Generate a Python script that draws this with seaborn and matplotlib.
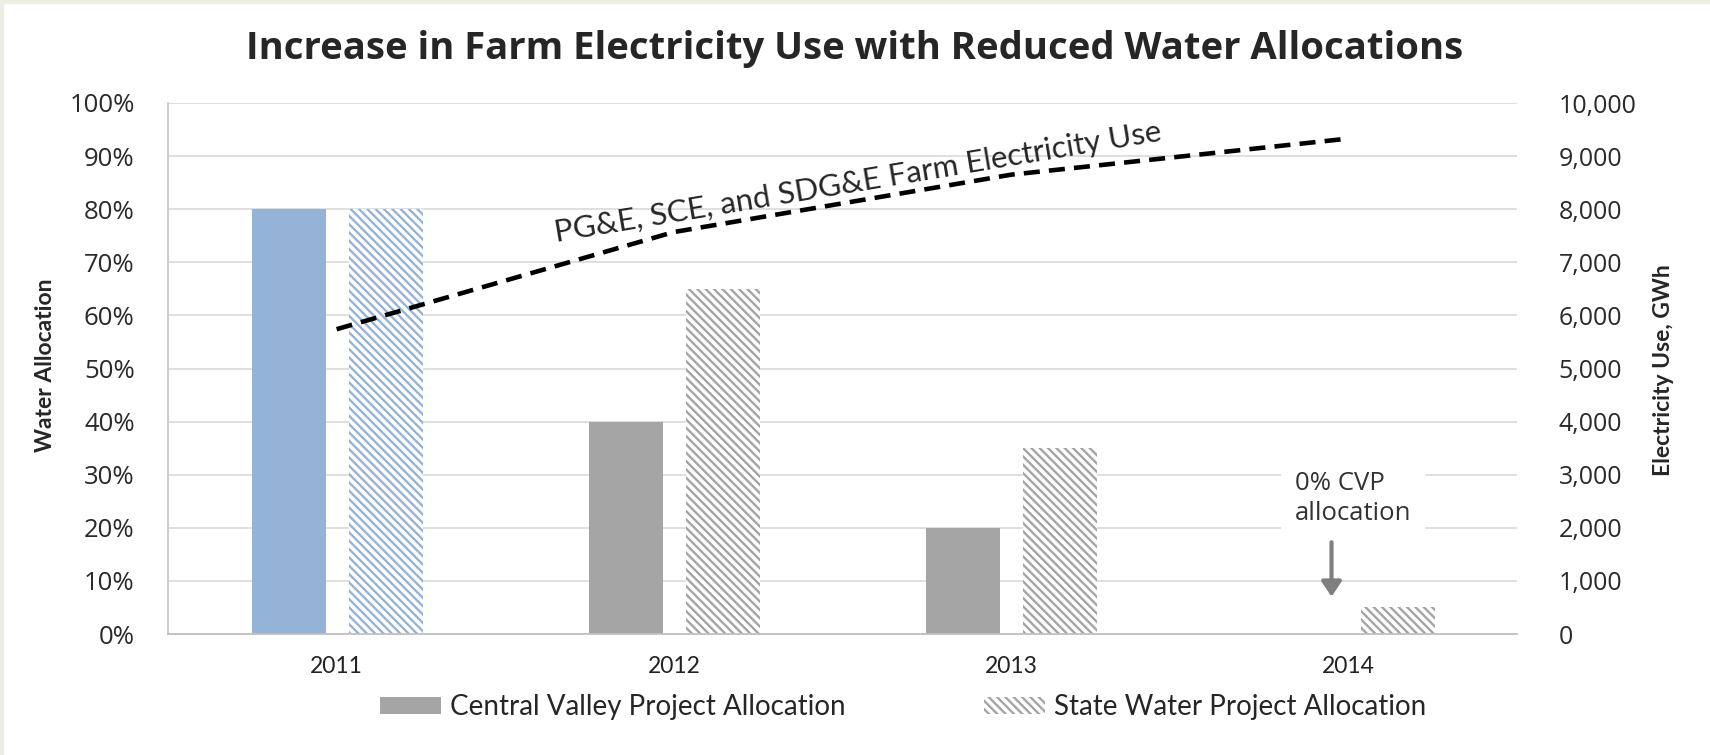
import numpy as np
import matplotlib
matplotlib.use("Agg")
import matplotlib.pyplot as plt
import pandas as pd
import seaborn as sns
from matplotlib.patches import Patch, Rectangle

years = ["2011", "2012", "2013", "2014"]
cvp_alloc = [80, 40, 20, 0]
swp_alloc = [80, 65, 35, 5]
elec_gwh = [5740, 7570, 8650, 9330]
projects = ["Central Valley Project Allocation", "State Water Project Allocation"]

gray = "#a5a5a5"
blue = "#95b3d7"

sns.set_style("white")
plt.rcParams["font.family"] = ["Open Sans", "DejaVu Sans"]
plt.rcParams["hatch.linewidth"] = 1.7

df = pd.DataFrame({
    "year": years * 2,
    "value": cvp_alloc + swp_alloc,
    "project": [projects[0]] * len(years) + [projects[1]] * len(years),
})

fig = plt.figure(figsize=(17.1, 7.55), dpi=100)
fig.patch.set_facecolor("white")
# thin beige frame on top / left like the screenshot
fig.patches.append(Rectangle((0, 0.996), 1, 0.004, transform=fig.transFigure, color="#efeee4", zorder=0))
fig.patches.append(Rectangle((0, 0), 0.002, 1, transform=fig.transFigure, color="#efeee4", zorder=0))

ax = fig.add_axes([168 / 1710, 1 - 634 / 755, (1517 - 168) / 1710, (634 - 103) / 755])
sns.barplot(data=df, x="year", y="value", hue="project", ax=ax, width=0.58,
            palette=[gray, gray], legend=False, saturation=1, err_kws={"linewidth": 0})

# tweak bar widths, offsets, colours and hatches
bw = 0.22
hatch = "\\" * 4
for p in ax.patches:
    cx = p.get_x() + p.get_width() / 2
    idx = int(round(cx))
    is_swp = cx > idx
    new_c = idx + (0.146 if is_swp else -0.142)
    p.set_width(bw)
    p.set_x(new_c - bw / 2)
    col = blue if idx == 0 else gray
    if is_swp:
        p.set_facecolor("white")
        p.set_edgecolor(col)
        p.set_hatch(hatch)
        p.set_linewidth(0)
    else:
        p.set_facecolor(col)
        p.set_linewidth(0)

ax.set_xlim(-0.5, 3.5)
ax.set_ylim(0, 100)
ax.set_yticks(range(0, 101, 10))
ax.set_yticklabels([f"{v}%" for v in range(0, 101, 10)], fontsize=18.5, color="#2a2a2a")
ax.set_xticks(range(len(years)))
ax.set_xticklabels(years, fontsize=16.5, family=["Lato", "DejaVu Sans"], color="#222222")
ax.tick_params(axis="y", length=0, pad=24)
ax.tick_params(axis="x", length=0, pad=16)
ax.yaxis.grid(True, color="#dcdcdc", linewidth=1.3)
ax.set_axisbelow(True)
for s in ["top", "right"]:
    ax.spines[s].set_visible(False)
ax.spines["left"].set_color("#c8c8c8")
ax.spines["left"].set_linewidth(1.3)
ax.spines["bottom"].set_color("#c0c0c0")
ax.spines["bottom"].set_linewidth(1.3)
ax.set_xlabel("")
ax.set_ylabel("")
fig.text(46 / 1710, 1 - 365 / 755, "Water Allocation", rotation=90, ha="center", va="center",
         fontsize=16.5, fontweight="bold", family=["Lato", "DejaVu Sans"])

ax2 = ax.twinx()
sns.lineplot(x=list(range(len(elec_gwh))), y=elec_gwh, ax=ax2, color="black",
             linewidth=3.3, linestyle=(0, (3.5, 2.0)))
ax2.set_ylim(0, 10000)
ax2.set_yticks(range(0, 10001, 1000))
ax2.set_yticklabels([f"{v:,}" for v in range(0, 10001, 1000)], fontsize=18, color="#2a2a2a")
ax2.tick_params(axis="y", length=0, pad=30)
for s in ax2.spines.values():
    s.set_visible(False)
ax2.set_ylabel("")
fig.text(1663 / 1710, 1 - 370 / 755, "Electricity Use, GWh", rotation=90, ha="center", va="center",
         fontsize=16.5, fontweight="bold", family=["Lato", "DejaVu Sans"])

ax2.text(1.547, 8500, "PG&E, SCE, and SDG&E Farm Electricity Use", rotation=9.5,
         rotation_mode="anchor", ha="center", va="center", fontsize=22.5,
         family=["Lato", "DejaVu Sans"])

# annotation for 2014 CVP
ax.annotate("", xy=(2.95, 6.5), xytext=(2.95, 17.8),
            arrowprops=dict(arrowstyle="-|>,head_width=0.6,head_length=0.9", color="#7f7f7f", lw=3.0))
ax.text(2.842, 25.5, "0% CVP\nallocation", ha="left", va="center", fontsize=18.5, color="#333333",
        linespacing=1.3, bbox=dict(facecolor="white", edgecolor="none", pad=10))

fig.text(855 / 1710, 1 - 49 / 755, "Increase in Farm Electricity Use with Reduced Water Allocations",
         ha="center", va="center", fontsize=27.5, fontweight="bold")

handles = [Patch(facecolor=gray, edgecolor=gray, linewidth=0),
           Patch(facecolor="white", edgecolor=gray, hatch=hatch, linewidth=0)]
fig.legend(handles, projects, loc="center", bbox_to_anchor=(903 / 1710, 1 - 707 / 755), ncol=2,
           frameon=False, handlelength=2.2, handleheight=0.55, handletextpad=0.3, columnspacing=5.0,
           prop={"family": ["Lato", "DejaVu Sans"], "size": 20})

fig.savefig("out.png", dpi=100)
